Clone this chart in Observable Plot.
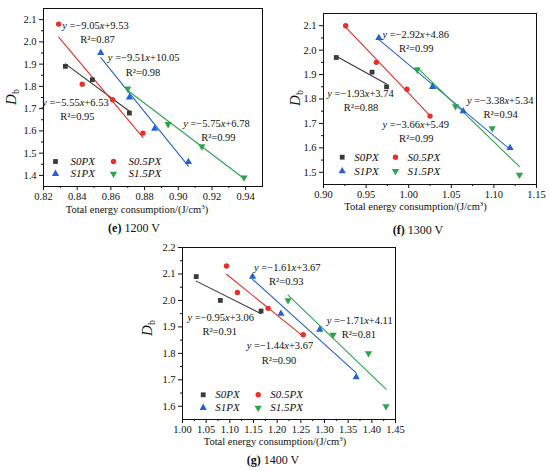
<!DOCTYPE html>
<html>
<head>
<meta charset="utf-8">
<script src="https://cdn.jsdelivr.net/npm/d3@7"></script>
<script src="https://cdn.jsdelivr.net/npm/@observablehq/plot@0.6"></script>
<style>
  html, body { margin: 0; padding: 0; background: #fff; }
  #root { position: relative; width: 550px; height: 474px; background: #fff; font-family: "Liberation Serif", "Times New Roman", serif; color: #111; overflow: hidden; }
  .panel { position: absolute; }
  .lbl { position: absolute; white-space: nowrap; transform: translate(-50%, -50%); line-height: 1; }
  .ylab { position: absolute; white-space: nowrap; transform: translate(-50%, -50%) rotate(-90deg); font-size: 15px; line-height: 1; }
  .ylab sub { font-size: 10px; font-style: normal; vertical-align: -3px; }
  .xt { font-size: 10.5px; }
  .cap { font-size: 12px; }
</style>
</head>
<body>
<div id="root"></div>
<script>
// ---- series ----
const seriesNames = ["S0PX", "S0.5PX", "S1PX", "S1.5PX"];
const seriesColors = ["#3a3a3a", "#e8302a", "#2462d2", "#2ea34c"];

// 1200 V
const x1200 = [
  [0.833, 0.849, 0.871],
  [0.829, 0.843, 0.861, 0.879],
  [0.854, 0.871, 0.886, 0.906],
  [0.870, 0.894, 0.914, 0.939]
];
const y1200 = [
  [1.89, 1.83, 1.68],
  [2.08, 1.81, 1.74, 1.59],
  [1.95, 1.75, 1.61, 1.46],
  [1.79, 1.63, 1.53, 1.39]
];
const eq1200 = ["y =−5.55x+6.53", "y =−9.05x+9.53", "y =−9.51x+10.05", "y =−5.75x+6.78"];
const r2_1200 = ["0.95", "0.87", "0.98", "0.99"];

// 1300 V
const x1300 = [
  [0.915, 0.957, 0.974],
  [0.926, 0.962, 0.998, 1.025],
  [0.965, 1.028, 1.064, 1.119],
  [1.010, 1.055, 1.098, 1.130]
];
const y1300 = [
  [1.97, 1.91, 1.85],
  [2.10, 1.95, 1.84, 1.73],
  [2.05, 1.85, 1.75, 1.60],
  [1.92, 1.77, 1.68, 1.49]
];
const eq1300 = ["y =−1.93x+3.74", "y =−3.66x+5.49", "y =−2.92x+4.86", "y =−3.38x+5.34"];
const r2_1300 = ["0.88", "0.99", "0.99", "0.94"];

// 1400 V
const x1400 = [
  [1.029, 1.080, 1.166],
  [1.093, 1.116, 1.181, 1.255],
  [1.148, 1.208, 1.290, 1.367],
  [1.223, 1.318, 1.393, 1.430]
];
const y1400 = [
  [2.09, 2.00, 1.96],
  [2.13, 2.03, 1.97, 1.87],
  [2.09, 1.95, 1.89, 1.71],
  [2.00, 1.87, 1.80, 1.60]
];
const eq1400 = ["y =−0.95x+3.06", "y =−1.44x+3.67", "y =−1.61x+3.67", "y =−1.71x+4.11"];
const r2_1400 = ["0.91", "0.90", "0.93", "0.81"];

// ---- tick labels ----
const xTicks1200 = [0.82, 0.84, 0.86, 0.88, 0.90, 0.92, 0.94];
const yTicks1200 = [1.4, 1.5, 1.6, 1.7, 1.8, 1.9, 2.0, 2.1];
const xTicks1300 = [0.90, 0.95, 1.00, 1.05, 1.10, 1.15];
const yTicks1300 = [1.5, 1.6, 1.7, 1.8, 1.9, 2.0, 2.1];
const xTicks1400 = [1.00, 1.05, 1.10, 1.15, 1.20, 1.25, 1.30, 1.35, 1.40, 1.45];
const yTicks1400 = [1.6, 1.7, 1.8, 1.9, 2.0, 2.1, 2.2];

// ---- equation label anchors (data units) ----
const eqAt1200 = [[0.8192, 1.729], [0.8311, 2.073], [0.8582, 1.928], [0.9029, 1.632]];
const eqAt1300 = [[0.9044, 1.823], [0.9692, 1.695], [0.9692, 2.063], [1.0683, 1.793]];
const eqAt1400 = [[1.0105, 1.935], [1.1357, 1.828], [1.1512, 2.124], [1.3045, 1.923]];

const triangleDown = {
  draw(ctx, size) {
    const y = -Math.sqrt(size / (Math.sqrt(3) * 3));
    ctx.moveTo(0, -y * 2);
    ctx.lineTo(-Math.sqrt(3) * y, y);
    ctx.lineTo(Math.sqrt(3) * y, y);
    ctx.closePath();
  }
};
const seriesSymbols = ["square", "circle", "triangle", triangleDown];

function midTicks(t) {
  const out = [];
  for (let i = 0; i < t.length - 1; i++) out.push((t[i] + t[i + 1]) / 2);
  return out;
}

function panel(o) {
  const data = o.xs.flatMap((xs, i) => xs.map((x, j) => ({x, y: o.ys[i][j], s: seriesNames[i]})));
  const ann = o.eqAt.map((p, i) => ({x: p[0], y: p[1], eq: o.eqs[i], r2: "R²=" + o.r2s[i]}));
  const legend = [];
  seriesNames.forEach((name, i) => {
    const col = i % 2, row = Math.floor(i / 2);
    const dx = o.legDx[col], dy = o.legDy[row];
    legend.push(Plot.dot([name], {frameAnchor: "bottom-left", dx, dy, r: 2.7, symbol: seriesSymbols[i], fill: seriesColors[i], stroke: "none"}));
    legend.push(Plot.text([name], {frameAnchor: "bottom-left", dx: dx + o.legGap, dy, text: d => d, textAnchor: "start", lineAnchor: "middle", fontStyle: "italic", fontSize: 11, fill: "#111"}));
  });
  const svg = Plot.plot({
    width: o.W, height: o.H,
    marginLeft: o.ml, marginRight: o.mr, marginTop: o.mt, marginBottom: o.mb,
    style: {fontFamily: "Liberation Serif", fontSize: "10.5px", background: "white", overflow: "visible", color: "#111"},
    x: {domain: o.xDomain},
    y: {domain: o.yDomain},
    color: {domain: seriesNames, range: seriesColors},
    symbol: {domain: seriesNames, range: seriesSymbols},
    marks: [
      Plot.axisX({ticks: o.xTicks, tickFormat: d3.format(".2f"), tickSize: 4, tickPadding: 2, label: null, fontSize: 10.5}),
      Plot.axisX({ticks: midTicks(o.xTicks), tickSize: 2, text: null, label: null}),
      Plot.axisY({ticks: o.yTicks, tickFormat: d3.format(".1f"), tickSize: 4, tickPadding: 3, label: null, fontSize: 10.5}),
      Plot.axisY({ticks: midTicks(o.yTicks), tickSize: 2, text: null, label: null}),
      Plot.linearRegressionY(data, {x: "x", y: "y", stroke: "s", ci: 0, strokeWidth: 1.1}),
      Plot.dot(data, {x: "x", y: "y", fill: "s", symbol: "s", r: 2.7, stroke: "none"}),
      Plot.text(ann, {x: "x", y: "y", text: "eq", textAnchor: "start", lineAnchor: "middle", fontSize: 10.5, fill: "#111"}),
      Plot.text(ann, {x: "x", y: "y", text: "r2", textAnchor: "start", lineAnchor: "middle", dx: o.r2dx, dy: 14.3, fontSize: 10.5, fill: "#111"}),
      ...legend,
      Plot.frame({stroke: "#111", strokeWidth: 1})
    ]
  });
  // italic y and x in equations
  d3.select(svg).selectAll("text").each(function () {
    const t = this.textContent;
    if (/^y =/.test(t) && this.children.length === 0) {
      const parts = t.split(/([xy])/).filter(s => s.length);
      this.textContent = "";
      const sel = d3.select(this);
      parts.forEach(p => {
        const ts = sel.append("tspan").text(p);
        if (p === "x" || p === "y") ts.attr("font-style", "italic");
      });
    }
  });
  const div = document.createElement("div");
  div.className = "panel";
  div.style.left = o.left + "px";
  div.style.top = o.top + "px";
  div.appendChild(svg);
  return div;
}

const root = document.getElementById("root");

root.appendChild(panel({
  left: 0, top: 0, W: 272, H: 205, ml: 43, mr: 10, mt: 8, mb: 19,
  xDomain: [0.82, 0.95], yDomain: [1.35, 2.15],
  xs: x1200, ys: y1200, eqs: eq1200, r2s: r2_1200, eqAt: eqAt1200,
  xTicks: xTicks1200, yTicks: yTicks1200,
  legDx: [12, 70], legDy: [-25, -12.7], legGap: 15, r2dx: 18
}));
root.appendChild(panel({
  left: 280, top: 0, W: 270, H: 205, ml: 43, mr: 14, mt: 13, mb: 21,
  xDomain: [0.90, 1.15], yDomain: [1.45, 2.15],
  xs: x1300, ys: y1300, eqs: eq1300, r2s: r2_1300, eqAt: eqAt1300,
  xTicks: xTicks1300, yTicks: yTicks1300,
  legDx: [18.7, 72], legDy: [-27.3, -13.3], legGap: 12, r2dx: 16.5
}));
root.appendChild(panel({
  left: 130, top: 232, W: 280, H: 205, ml: 52, mr: 15, mt: 15, mb: 18,
  xDomain: [1.00, 1.45], yDomain: [1.55, 2.2],
  xs: x1400, ys: y1400, eqs: eq1400, r2s: r2_1400, eqAt: eqAt1400,
  xTicks: xTicks1400, yTicks: yTicks1400,
  legDx: [20.7, 75.7], legDy: [-24.7, -11.7], legGap: 12, r2dx: 15
}));

function addLabel(html, cls, x, y) {
  const d = document.createElement("div");
  d.className = cls;
  d.style.left = x + "px";
  d.style.top = y + "px";
  d.innerHTML = html;
  root.appendChild(d);
}
const xTitle = "Total energy consumption/(J/cm<sup style='font-size:7px;vertical-align:4px'>3</sup>)";
addLabel(xTitle, "lbl xt", 137, 210);
addLabel(xTitle, "lbl xt", 415.6, 206.7);
addLabel(xTitle, "lbl xt", 275, 441.7);
addLabel("<b>(e)</b> 1200 V", "lbl cap", 134, 228);
addLabel("<b>(f)</b> 1300 V", "lbl cap", 418, 230);
addLabel("<b>(g)</b> 1400 V", "lbl cap", 273, 460);
const yTitle = "<i>D</i><sub>b</sub>";
addLabel(yTitle, "ylab", 12, 97);
addLabel(yTitle, "ylab", 296, 98);
addLabel(yTitle, "ylab", 148, 328);
</script>
</body>
</html>
